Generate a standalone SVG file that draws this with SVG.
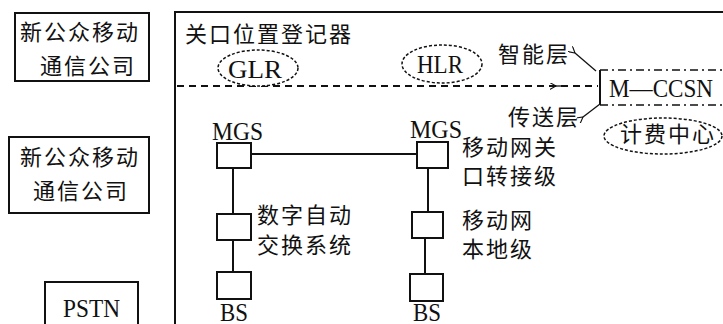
<svg xmlns="http://www.w3.org/2000/svg" width="723" height="324" viewBox="0 0 723 324">
<defs>
<style>
.cjk{font-family:"Noto Sans CJK SC","Noto Sans CJK JP",sans-serif;font-size:22px;letter-spacing:2px;fill:#111}
.lat{font-family:"Liberation Serif","Times New Roman",serif;font-size:26px;fill:#111}
.box{fill:#fff;stroke:#111;stroke-width:2}
.ln{fill:none;stroke:#111;stroke-width:2}
.dash{fill:none;stroke:#111;stroke-width:2;stroke-dasharray:7 5}
.ell{fill:#fff;stroke:#111;stroke-width:1.5;stroke-dasharray:3 2}
.thin{fill:none;stroke:#111;stroke-width:1.3}
</style>
<marker id="ah" viewBox="0 0 10 10" refX="1" refY="5" markerWidth="7" markerHeight="7" orient="auto-start-reverse" markerUnits="userSpaceOnUse">
<path d="M10,0 L1,5 L10,10" fill="none" stroke="#111" stroke-width="1.6"/>
</marker>
</defs>
<rect width="723" height="324" fill="#fff"/>

<g id="frame">
<path class="ln" d="M175,324 V12 H724"/>
<text class="cjk" x="185" y="42">关口位置登记器</text>
</g>

<g id="connectors">
<path class="dash" d="M177,86 H598"/>
<path class="thin" d="M565,86 H556" marker-end="url(#ah)"/>
<path class="thin" d="M596,71 L575,53" marker-end="url(#ah)"/>
<path class="thin" d="M600,104 L583,117" marker-end="url(#ah)"/>
<path class="ln" d="M251,154 H417"/>
<path class="ln" d="M233,168 V214 M233,240 V272"/>
<path class="ln" d="M428,168 V212 M425,238 V274"/>
</g>

<g id="company1">
<rect class="box" x="15" y="13" width="134" height="68"/>
<text class="cjk" x="20" y="40">新公众移动</text>
<text class="cjk" x="40" y="74">通信公司</text>
</g>

<g id="company2">
<rect class="box" x="9" y="137" width="140" height="76"/>
<text class="cjk" x="20" y="165">新公众移动</text>
<text class="cjk" x="33" y="199">通信公司</text>
</g>

<g id="pstn">
<rect class="box" x="45" y="282" width="93" height="50"/>
<text class="lat" x="63" y="317" textLength="57" lengthAdjust="spacingAndGlyphs">PSTN</text>
</g>

<g id="glr">
<ellipse class="ell" cx="258" cy="68" rx="40" ry="18"/>
<text class="lat" x="228" y="78" textLength="54" lengthAdjust="spacingAndGlyphs">GLR</text>
</g>

<g id="hlr">
<ellipse class="ell" cx="442" cy="64" rx="40" ry="19"/>
<text class="lat" x="417" y="73" textLength="46" lengthAdjust="spacingAndGlyphs">HLR</text>
</g>

<g id="layers">
<text class="cjk" x="498" y="62">智能层</text>
<text class="cjk" x="508" y="125">传送层</text>
</g>

<g id="mccsn">
<path class="ln" d="M600,70 V105" stroke-width="1.5"/>
<path fill="none" stroke="#111" stroke-width="1.5" stroke-dasharray="8 4 2 4" d="M600,70 H724 M600,105 H724"/>
<text class="lat" x="609" y="97" textLength="104" lengthAdjust="spacingAndGlyphs">M—CCSN</text>
</g>

<g id="billing">
<ellipse class="ell" cx="663" cy="136" rx="59" ry="18"/>
<text class="cjk" x="620" y="142">计费中心</text>
</g>

<g id="mgs-left">
<text class="lat" x="212" y="140" textLength="51" lengthAdjust="spacingAndGlyphs">MGS</text>
<rect class="box" x="217" y="143" width="34" height="25"/>
</g>

<g id="dss">
<rect class="box" x="217" y="214" width="34" height="26"/>
<text class="cjk" x="257" y="223">数字自动</text>
<text class="cjk" x="257" y="253">交换系统</text>
</g>

<g id="bs-left">
<rect class="box" x="217" y="272" width="34" height="27"/>
<text class="lat" x="220" y="321" textLength="28" lengthAdjust="spacingAndGlyphs">BS</text>
</g>

<g id="mgs-right">
<text class="lat" x="410" y="138" textLength="52" lengthAdjust="spacingAndGlyphs">MGS</text>
<rect class="box" x="417" y="142" width="31" height="26"/>
<text class="cjk" x="462" y="155">移动网关</text>
<text class="cjk" x="462" y="184">口转接级</text>
</g>

<g id="local">
<rect class="box" x="412" y="212" width="31" height="26"/>
<text class="cjk" x="462" y="228">移动网</text>
<text class="cjk" x="462" y="257">本地级</text>
</g>

<g id="bs-right">
<rect class="box" x="410" y="274" width="33" height="27"/>
<text class="lat" x="413" y="321" textLength="28" lengthAdjust="spacingAndGlyphs">BS</text>
</g>
</svg>
